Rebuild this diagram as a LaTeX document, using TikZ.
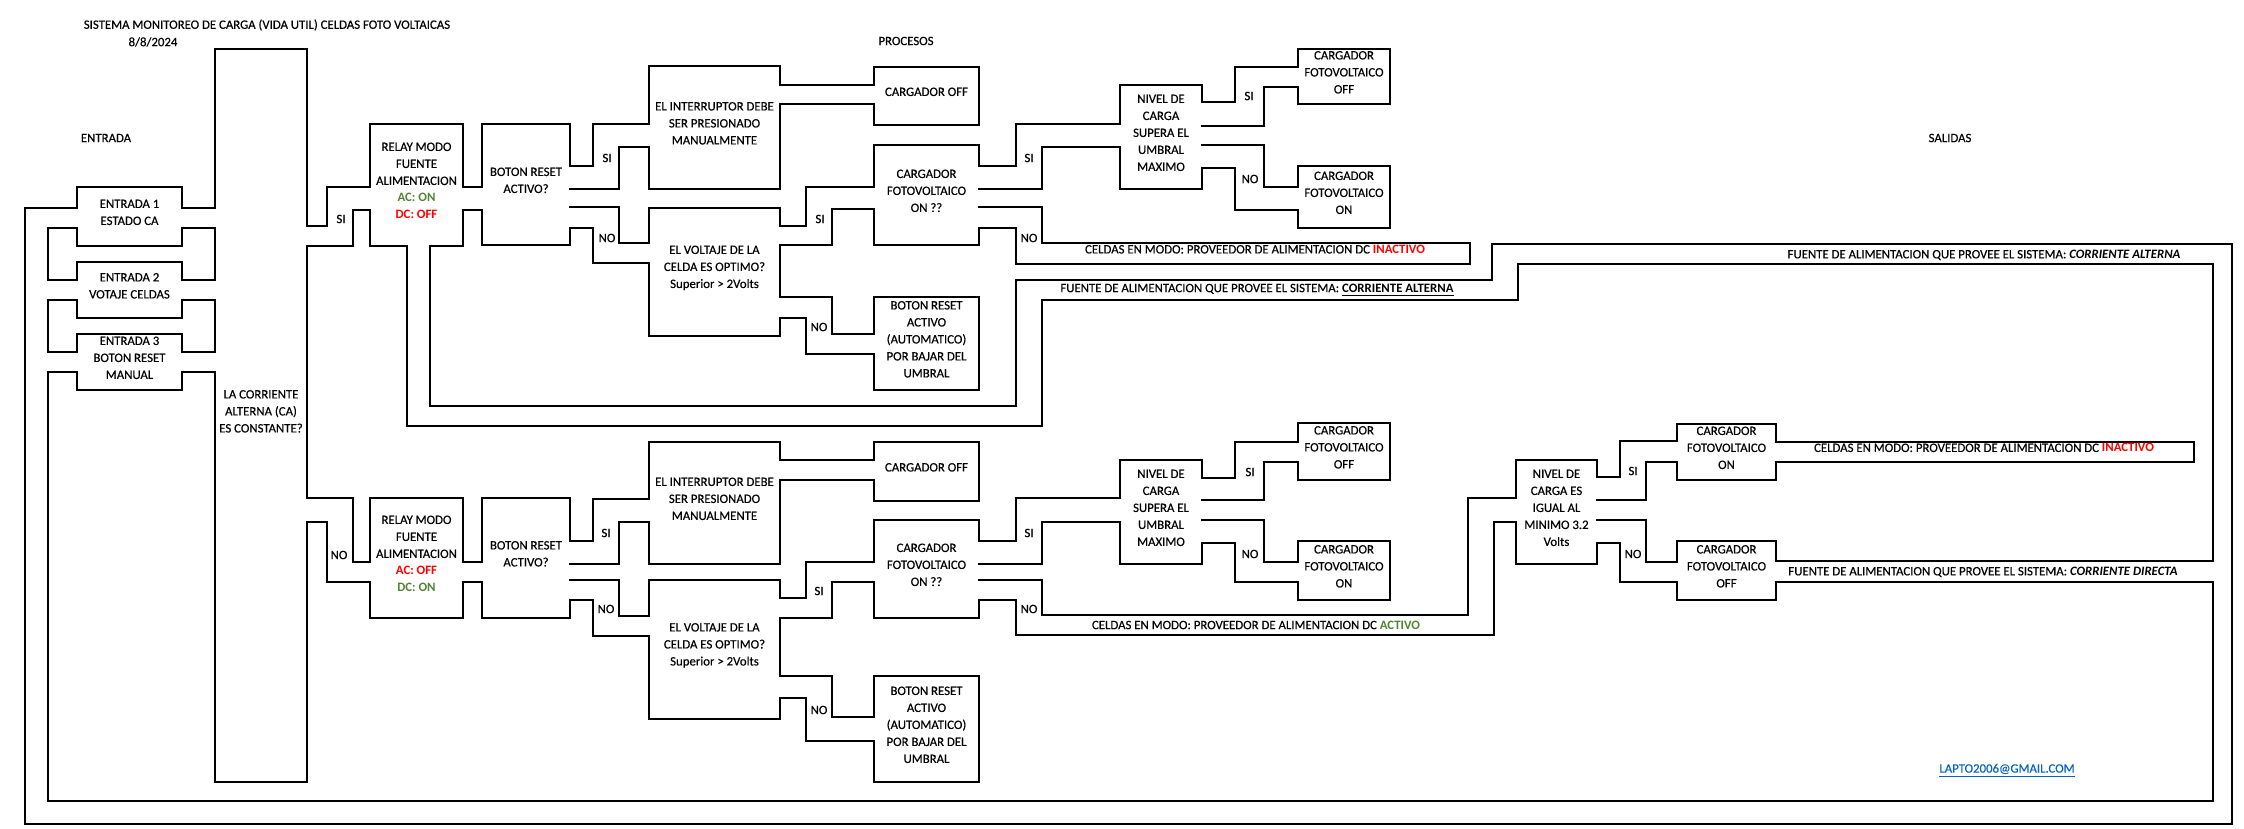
\documentclass[tikz,border=0pt]{standalone}
\usepackage{fontspec}
\setmainfont{Carlito}[UprightFeatures={FakeBold=0.35}]
\usetikzlibrary{fit,calc}
\pgfdeclarelayer{bg}
\pgfdeclarelayer{mid}
\pgfsetlayers{bg,mid,main}
\definecolor{okgreen}{RGB}{84,130,53}
\definecolor{alertred}{RGB}{255,0,0}
\definecolor{maillink}{RGB}{5,99,193}
\def\lwv{2.4}
\newcommand\BoxList{ent1,ent2,ent3,corr,relA,botA,intA,offA,cgA,voA,autA,nivA,fvoffA,fvonA,celA,relB,botB,intB,offB,cgB,voB,autB,nivB,fvoffB,fvonB,nivM,cgonR,cgoffR,celR}
\newcommand\Pipes{%
% entradas -> loop and -> corriente
\shpR{(26,209)}{([xshift=1pt]ent1.west|-0,227)}
\shpR{(26,209)}{(47,823)}
\shpR{(40,281)}{([xshift=1pt]ent2.west|-0,299)}
\shpR{(40,353)}{([xshift=1pt]ent3.west|-0,371)}
\shpR{([xshift=-1pt]ent1.east|-0,209)}{([xshift=1pt]corr.west|-0,227)}
\shpR{([xshift=-1pt]ent2.east|-0,281)}{([xshift=1pt]corr.west|-0,299)}
\shpR{([xshift=-1pt]ent3.east|-0,353)}{([xshift=1pt]corr.west|-0,371)}
% outer loop
\shpR{(26,802)}{(2231,823)}
\shpR{(2214,245)}{(2231,823)}
\shpR{(1493,245)}{(2231,263)}
\shpR{(1493,245)}{(1517,299)}
\shpR{(1017,281)}{(1517,299)}
\shpR{(1017,281)}{(1041,425)}
\shpR{(408,407)}{(1041,425)}
\shpR{([yshift=1pt]relA.south-|408,0)}{(429,425)}
% corr -> relA
\shpR{([xshift=-1pt]corr.east|-0,227)}{(352,245)}
\shpR{(328,188)}{(352,245)}
\shpR{(328,188)}{([xshift=1pt]relA.west|-0,209)}
\shpR{([xshift=-1pt]relA.east|-0,188)}{([xshift=1pt]botA.west|-0,209)}
% botA
\shpR{([xshift=-1pt]botA.east|-0,167)}{(618,188)}
\shpR{(594,125)}{(618,188)}
\shpR{(594,125)}{([xshift=1pt]intA.west|-0,146)}
\shpR{([xshift=-1pt]botA.east|-0,208)}{(618,227)}
\shpR{(594,208)}{(618,262)}
\shpR{(594,244)}{([xshift=1pt]voA.west|-0,262)}
\shpR{([xshift=-1pt]intA.east|-0,86)}{([xshift=1pt]offA.west|-0,103)}
% voA
\shpR{([xshift=-1pt]voA.east|-0,227)}{(831,244)}
\shpR{(807,188)}{(831,244)}
\shpR{(807,188)}{([xshift=1pt]cgA.west|-0,208)}
\shpR{([xshift=-1pt]voA.east|-0,298)}{(831,317)}
\shpR{(807,298)}{(831,353)}
\shpR{(807,335)}{([xshift=1pt]autA.west|-0,353)}
% cgA
\shpR{([xshift=-1pt]cgA.east|-0,167)}{(1041,188)}
\shpR{(1017,125)}{(1041,188)}
\shpR{(1017,125)}{([xshift=1pt]nivA.west|-0,146)}
\shpR{([xshift=-1pt]cgA.east|-0,208)}{(1041,227)}
\shpR{(1017,208)}{(1041,263)}
\shpR{(1017,244)}{([xshift=1pt]celA.west|-0,263)}
% nivA
\shpR{([xshift=-1pt]nivA.east|-0,103)}{(1263,125)}
\shpR{(1236,68)}{(1263,125)}
\shpR{(1236,68)}{([xshift=1pt]fvoffA.west|-0,86)}
\shpR{([xshift=-1pt]nivA.east|-0,146)}{(1263,167)}
\shpR{(1236,146)}{(1263,209)}
\shpR{(1236,188)}{([xshift=1pt]fvonA.west|-0,209)}
% corr -> relB
\shpR{([xshift=-1pt]corr.east|-0,499)}{(352,521)}
\shpR{(328,499)}{(352,581)}
\shpR{(328,563)}{([xshift=1pt]relB.west|-0,581)}
\shpR{([xshift=-1pt]relB.east|-0,563)}{([xshift=1pt]botB.west|-0,581)}
% botB
\shpR{([xshift=-1pt]botB.east|-0,542)}{(618,563)}
\shpR{(594,500)}{(618,563)}
\shpR{(594,500)}{([xshift=1pt]intB.west|-0,521)}
\shpR{([xshift=-1pt]botB.east|-0,581)}{(618,599)}
\shpR{(594,581)}{(618,635)}
\shpR{(594,617)}{([xshift=1pt]voB.west|-0,635)}
\shpR{([xshift=-1pt]intB.east|-0,461)}{([xshift=1pt]offB.west|-0,479)}
% voB
\shpR{([xshift=-1pt]voB.east|-0,599)}{(831,617)}
\shpR{(807,563)}{(831,617)}
\shpR{(807,563)}{([xshift=1pt]cgB.west|-0,581)}
\shpR{([xshift=-1pt]voB.east|-0,677)}{(831,697)}
\shpR{(807,677)}{(831,740)}
\shpR{(807,718)}{([xshift=1pt]autB.west|-0,740)}
% cgB
\shpR{([xshift=-1pt]cgB.east|-0,542)}{(1041,563)}
\shpR{(1017,499)}{(1041,563)}
\shpR{(1017,499)}{([xshift=1pt]nivB.west|-0,521)}
\shpR{([xshift=-1pt]cgB.east|-0,581)}{(1041,599)}
\shpR{(1017,581)}{(1041,634)}
\shpR{(1017,616)}{(1493,634)}
\shpR{(1469,499)}{(1493,634)}
\shpR{(1469,499)}{([xshift=1pt]nivM.west|-0,521)}
% nivB
\shpR{([xshift=-1pt]nivB.east|-0,479)}{(1263,499)}
\shpR{(1236,443)}{(1263,499)}
\shpR{(1236,443)}{([xshift=1pt]fvoffB.west|-0,461)}
\shpR{([xshift=-1pt]nivB.east|-0,521)}{(1263,542)}
\shpR{(1236,521)}{(1263,581)}
\shpR{(1236,563)}{([xshift=1pt]fvonB.west|-0,581)}
% nivM
\shpR{([xshift=-1pt]nivM.east|-0,478)}{(1645,499)}
\shpR{(1621,442)}{(1645,499)}
\shpR{(1621,442)}{([xshift=1pt]cgonR.west|-0,461)}
\shpR{([xshift=-1pt]nivM.east|-0,521)}{(1645,542)}
\shpR{(1621,521)}{(1645,581)}
\shpR{(1621,563)}{([xshift=1pt]cgoffR.west|-0,581)}
% outputs
\shpR{([xshift=-1pt]cgonR.east|-0,443)}{([xshift=1pt]celR.west|-0,461)}
\shpR{([xshift=-1pt]cgoffR.east|-0,562)}{(2220,581)}
}
\begin{document}
\begin{tikzpicture}[x=0.5pt,y=-0.5pt,
  every node/.style={font=\fontsize{6.4}{8.5}\selectfont, inner sep=0pt, outer sep=0pt},
  bx/.style={align=center},
  yn/.style={}]
\useasboundingbox (0,0) rectangle (2244,829);

% ---------- boxes (text nodes; outlines drawn on layers) ----------
\node[bx, fit={(78,188)(181,245)}] (ent1) {ENTRADA 1\\ESTADO CA};
\node[bx, fit={(78,263)(181,317)}] (ent2) {ENTRADA 2\\VOTAJE CELDAS};
\node[bx, fit={(78,335)(181,389)}] (ent3) {ENTRADA 3\\BOTON RESET\\MANUAL};
\node[bx, fit={(216,50)(306,781)}] (corr) {LA CORRIENTE\\ALTERNA (CA)\\ES CONSTANTE?};

\node[bx, fit={(371,125)(462,245)}] (relA) {RELAY MODO\\FUENTE\\ALIMENTACION\\\textcolor{okgreen}{\textbf{AC: ON}}\\\textcolor{alertred}{\textbf{DC: OFF}}};
\node[bx, fit={(483,125)(569,244)}] (botA) {BOTON RESET\\ACTIVO?};
\node[bx, fit={(650,67)(779,188)}] (intA) {EL INTERRUPTOR DEBE\\SER PRESIONADO\\MANUALMENTE};
\node[bx, fit={(875,68)(978,124)}] (offA) {CARGADOR OFF};
\node[bx, fit={(875,146)(978,244)}] (cgA) {CARGADOR\\FOTOVOLTAICO\\ON ??};
\node[bx, fit={(650,209)(779,335)}] (voA) {EL VOLTAJE DE LA\\CELDA ES OPTIMO?\\Superior > 2Volts};
\node[bx, fit={(875,298)(978,389)}] (autA) {BOTON RESET\\ACTIVO\\(AUTOMATICO)\\POR BAJAR DEL\\UMBRAL};
\node[bx, fit={(1121,86)(1201,188)}] (nivA) {NIVEL DE\\CARGA\\SUPERA EL\\UMBRAL\\MAXIMO};
\node[bx, fit={(1299,50)(1389,103)}] (fvoffA) {CARGADOR\\FOTOVOLTAICO\\OFF};
\node[bx, fit={(1299,167)(1389,227)}] (fvonA) {CARGADOR\\FOTOVOLTAICO\\ON};
\node[bx, fit={(1041,244)(1469,263)}] (celA) {CELDAS EN MODO: PROVEEDOR DE ALIMENTACION DC \textcolor{alertred}{\textbf{INACTIVO}}};

\node[bx, fit={(371,499)(462,617)}] (relB) {RELAY MODO\\FUENTE\\ALIMENTACION\\\textcolor{alertred}{\textbf{AC: OFF}}\\\textcolor{okgreen}{\textbf{DC: ON}}};
\node[bx, fit={(483,499)(569,617)}] (botB) {BOTON RESET\\ACTIVO?};
\node[bx, fit={(650,443)(779,563)}] (intB) {EL INTERRUPTOR DEBE\\SER PRESIONADO\\MANUALMENTE};
\node[bx, fit={(875,443)(978,500)}] (offB) {CARGADOR OFF};
\node[bx, fit={(875,521)(978,617)}] (cgB) {CARGADOR\\FOTOVOLTAICO\\ON ??};
\node[bx, fit={(650,581)(779,718)}] (voB) {EL VOLTAJE DE LA\\CELDA ES OPTIMO?\\Superior > 2Volts};
\node[bx, fit={(875,677)(978,781)}] (autB) {BOTON RESET\\ACTIVO\\(AUTOMATICO)\\POR BAJAR DEL\\UMBRAL};
\node[bx, fit={(1121,461)(1201,563)}] (nivB) {NIVEL DE\\CARGA\\SUPERA EL\\UMBRAL\\MAXIMO};
\node[bx, fit={(1299,424)(1389,479)}] (fvoffB) {CARGADOR\\FOTOVOLTAICO\\OFF};
\node[bx, fit={(1299,542)(1389,599)}] (fvonB) {CARGADOR\\FOTOVOLTAICO\\ON};
\node[bx, fit={(1517,461)(1596,563)}] (nivM) {NIVEL DE\\CARGA ES\\IGUAL AL\\MINIMO 3.2\\Volts};
\node[bx, fit={(1678,425)(1775,479)}] (cgonR) {CARGADOR\\FOTOVOLTAICO\\ON};
\node[bx, fit={(1678,542)(1775,599)}] (cgoffR) {CARGADOR\\FOTOVOLTAICO\\OFF};
\node[bx, fit={(1775,443)(2193,461)}] (celR) {CELDAS EN MODO: PROVEEDOR DE ALIMENTACION DC \textcolor{alertred}{\textbf{INACTIVO}}};

% ---------- outlines: black pass ----------
\begin{pgfonlayer}{bg}
  \def\shpR#1#2{\draw[line width=2.4pt] #1 rectangle #2;}
  \foreach \n in \BoxList {\shpR{(\n.north west)}{(\n.south east)}}
  \Pipes
\end{pgfonlayer}
% ---------- outlines: white pass ----------
\begin{pgfonlayer}{mid}
  \def\shpR#1#2{\fill[white] #1 rectangle #2;}
  \foreach \n in \BoxList {\shpR{(\n.north west)}{(\n.south east)}}
  \Pipes
  % open forks between the SI / NO exits
  \foreach \xx/\ya/\yb in {569/188/208, 978/188/208, 1201/125/146, 569/563/581, 978/563/581, 1201/499/521, 1596/499/521}
    \fill[white] (\xx-0.5,\ya+\lwv) rectangle (\xx+\lwv+0.6,\yb-\lwv);
\end{pgfonlayer}

% ---------- free texts ----------
\node (tTitle) at (267,25) {SISTEMA MONITOREO DE CARGA (VIDA UTIL) CELDAS FOTO VOLTAICAS};
\node (tDate) at (153,42) {8/8/2024};
\node (tEnt) at (106,138) {ENTRADA};
\node (tProc) at (906,41) {PROCESOS};
\node (tSal) at (1950,138) {SALIDAS};
\node (tMail) at (2007,771) {\textcolor{maillink}{\underline{LAPTO2006@GMAIL.COM}}};

\node (tAC1) at (1257,290) {FUENTE DE ALIMENTACION QUE PROVEE EL SISTEMA: \underline{\textbf{CORRIENTE ALTERNA}}};
\node (tAC2) at (1984,255) {FUENTE DE ALIMENTACION QUE PROVEE EL SISTEMA: \textbf{\textit{CORRIENTE ALTERNA}}};
\node (tDC) at (1983,572) {FUENTE DE ALIMENTACION QUE PROVEE EL SISTEMA: \textbf{\textit{CORRIENTE DIRECTA}}};
\node (tAct) at (1256,625) {CELDAS EN MODO: PROVEEDOR DE ALIMENTACION DC \textcolor{okgreen}{\textbf{ACTIVO}}};

% ---------- SI / NO labels ----------
\node[yn] (l1) at (341,219) {SI};
\node[yn] (l2) at (607,158) {SI};
\node[yn] (l3) at (607,238) {NO};
\node[yn] (l4) at (820,219) {SI};
\node[yn] (l5) at (819,327) {NO};
\node[yn] (l6) at (1029,158) {SI};
\node[yn] (l7) at (1029,238) {NO};
\node[yn] (l8) at (1249,96) {SI};
\node[yn] (l9) at (1250,179) {NO};
\node[yn] (m1) at (339,555) {NO};
\node[yn] (m2) at (606,533) {SI};
\node[yn] (m3) at (606,609) {NO};
\node[yn] (m4) at (819,591) {SI};
\node[yn] (m5) at (819,710) {NO};
\node[yn] (m6) at (1029,533) {SI};
\node[yn] (m7) at (1029,609) {NO};
\node[yn] (m8) at (1250,472) {SI};
\node[yn] (m9) at (1250,554) {NO};
\node[yn] (n1) at (1633,471) {SI};
\node[yn] (n2) at (1633,554) {NO};
\end{tikzpicture}
\end{document}
